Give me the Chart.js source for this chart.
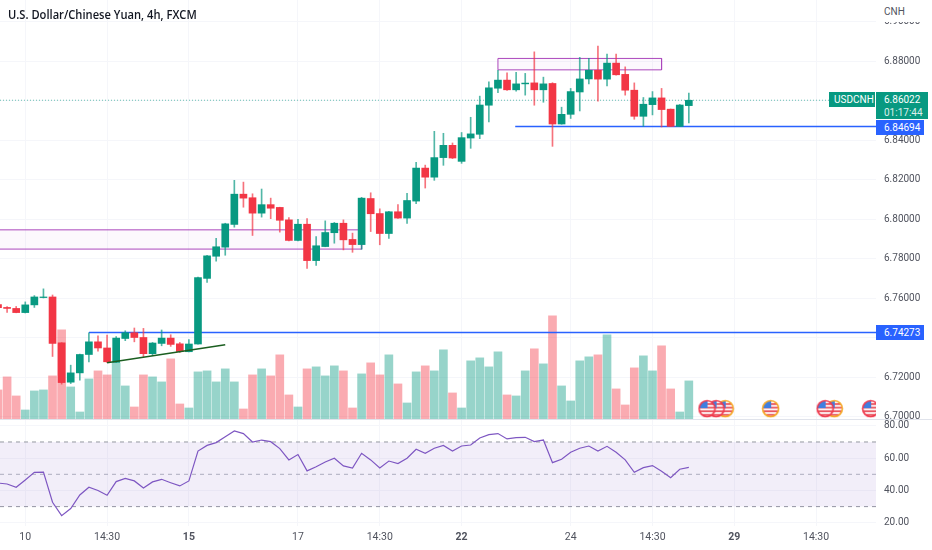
<!DOCTYPE html>
<html>
<head>
<meta charset="utf-8">
<style>
  html, body { margin: 0; padding: 0; background: #fff; overflow: hidden; }
  #wrap { position: relative; width: 932px; height: 550px; font-family: "Roboto", sans-serif; }
  canvas { position: absolute; left: 0; }
  #main { top: 0; }
  #rsi { top: 420px; }
  .txt { position: absolute; white-space: nowrap; }
  .tag { position: absolute; color: #fff; font-size: 10px; line-height: 15px; text-align: left; padding-left: 8px; box-sizing: border-box; }
</style>
</head>
<body>
<div id="wrap">
  <canvas id="main" width="932" height="420"></canvas>
  <canvas id="rsi" width="932" height="130"></canvas>
  <div class="txt" style="left:0;top:419px;width:932px;height:1px;background:#e0e3eb"></div>
  <div class="txt" style="left:877px;top:0;width:55px;height:22px;background:#fff"></div>
  <div class="txt" style="left:877px;top:526px;width:55px;height:6px;background:#fff"></div>
  <div class="txt" id="title" style="left:8px;top:6px;font:600 12px 'Open Sans';color:#131722;transform:scaleX(.93);transform-origin:left">U.S. Dollar/Chinese Yuan, 4h, FXCM</div>
  <div class="txt" style="left:884px;top:6px;font-size:10px;line-height:12px;color:#50535e">CNH</div>
  <div class="tag" style="left:829px;top:92px;width:46px;height:15px;background:#089981;padding-left:5px">USDCNH</div>
  <div class="tag" style="left:876px;top:92px;width:52px;height:27px;background:#089981;line-height:13px;padding-top:1px">6.86022<br><span style="opacity:.85">01:17:44</span></div>
  <div class="tag" style="left:876px;top:120px;width:48px;height:15px;background:#2962ff">6.84694</div>
  <div class="tag" style="left:876px;top:325px;width:48px;height:15px;background:#2962ff">6.74273</div>
</div>
<script src="https://cdn.jsdelivr.net/npm/chart.js@4/dist/chart.umd.js"></script>
<script>
const opens = [6.7568,6.7554,6.7549,6.7528,6.7567,6.7604,6.7607,6.7375,6.7176,6.7223,6.7316,6.7380,6.7349,6.7276,6.7397,6.7426,6.7402,6.7320,6.7372,6.7399,6.7370,6.7330,6.7369,6.7701,6.7813,6.7859,6.7974,6.8127,6.8109,6.8031,6.8074,6.8060,6.7997,6.7893,6.7975,6.7791,6.7862,6.7932,6.7980,6.7898,6.7872,6.8105,6.8029,6.7928,6.8038,6.8006,6.8092,6.8259,6.8213,6.8312,6.8374,6.8293,6.8411,6.8430,6.8577,6.8663,6.8704,6.8655,6.8685,6.8690,6.8655,6.8687,6.8482,6.8531,6.8644,6.8710,6.8754,6.8709,6.8790,6.8733,6.8653,6.8521,6.8580,6.8614,6.8557,6.8470,6.8575];
const closes = [6.7553,6.7549,6.7528,6.7567,6.7607,6.7607,6.7372,6.7174,6.7223,6.7316,6.7380,6.7349,6.7279,6.7399,6.7426,6.7402,6.7320,6.7374,6.7399,6.7367,6.7331,6.7369,6.7705,6.7815,6.7861,6.7977,6.8127,6.8107,6.8031,6.8074,6.8056,6.7995,6.7893,6.7975,6.7791,6.7866,6.7933,6.7980,6.7896,6.7872,6.8107,6.8028,6.7928,6.8038,6.8006,6.8095,6.8259,6.8213,6.8312,6.8374,6.8310,6.8413,6.8432,6.8578,6.8665,6.8704,6.8655,6.8685,6.8689,6.8655,6.8685,6.8482,6.8531,6.8646,6.8710,6.8754,6.8709,6.8790,6.8731,6.8653,6.8521,6.8582,6.8614,6.8555,6.8470,6.8578,6.8602];
const highs = [6.7571,6.7558,6.7559,6.7582,6.7614,6.7648,6.7617,6.7376,6.7262,6.7318,6.7425,6.7411,6.7414,6.7406,6.7436,6.7450,6.7448,6.7377,6.7440,6.7416,6.7377,6.7392,6.7708,6.7818,6.7904,6.7980,6.8197,6.8188,6.8129,6.8153,6.8107,6.8061,6.8008,6.8000,6.8004,6.7913,6.7992,6.7984,6.7997,6.7930,6.8111,6.8134,6.8053,6.8040,6.8075,6.8131,6.8288,6.8274,6.8445,6.8435,6.8386,6.8439,6.8516,6.8623,6.8695,6.8754,6.8741,6.8744,6.8738,6.8847,6.8719,6.8691,6.8567,6.8662,6.8819,6.8814,6.8876,6.8836,6.8836,6.8771,6.8690,6.8616,6.8646,6.8662,6.8558,6.8581,6.8639];
const lows = [6.7548,6.7529,6.7527,6.7526,6.7554,6.7602,6.7306,6.7166,6.7169,6.7186,6.7279,6.7333,6.7274,6.7274,6.7386,6.7380,6.7304,6.7311,6.7360,6.7357,6.7326,6.7329,6.7368,6.7681,6.7788,6.7818,6.7960,6.8061,6.7918,6.8011,6.8003,6.7935,6.7891,6.7891,6.7752,6.7766,6.7861,6.7879,6.7845,6.7833,6.7848,6.7938,6.7871,6.7903,6.8004,6.7979,6.8079,6.8158,6.8197,6.8273,6.8307,6.8283,6.8359,6.8408,6.8492,6.8641,6.8652,6.8648,6.8628,6.8577,6.8592,6.8369,6.8481,6.8510,6.8548,6.8685,6.8597,6.8675,6.8729,6.8628,6.8506,6.8470,6.8528,6.8467,6.8469,6.8469,6.8487];
const volumes = [30,43,24,10,29,30,44,90,33,8,41,49,45,57,34,13,45,43,38,61,16,12,48,49,38,51,38,11,45,51,44,65,25,13,51,53,44,54,49,12,46,57,45,65,36,17,48,54,49,70,27,12,59,62,53,68,25,24,49,71,56,104,34,19,59,63,65,85,31,15,52,64,49,74,31,8,39];
const rsiValues = [44.6,44,42,46.5,51.2,51.4,32.7,24.4,28.8,37.2,42,40,37,45.5,47.5,45.9,41.5,45.3,46.9,44.8,42.8,45.9,64.4,67.9,69.6,73.3,76.8,75.2,70,71.2,70.2,65.9,58.9,62.2,52.1,54.7,57.6,59.9,55.2,53.9,63,58.9,53.9,58.2,56.6,59.9,65.5,63,66.1,67.9,64.4,67.5,68.1,72.5,74.5,75.2,71.9,72.7,72.9,70.2,71.2,57.2,59.3,63.6,66.1,67.5,64.4,67.3,63.6,58.9,51.2,54.1,55.4,51.9,47.9,53.1,54.3];

const priceTicks = [6.70,6.72,6.74,6.76,6.78,6.80,6.82,6.84,6.86,6.88,6.90];
const rsiTicks = [20,40,60,80];
const timeTicks = [3,12,21,33,42,51,63,72,81,90];
const timeLabels = ['10','14:30','15','17','14:30','22','24','14:30','29','14:30'];
const boldLabels = ['15','22','29'];

const eventBars = [96,92,91,85,80,79,78];
const eventColors = ['#f0384c','#f5a623','#f0384c','#f5a623','#f5a623','#f0384c','#f0384c'];
const eventPrice = 6.7042;

const lastPrice = 6.86022;
const supportHigh = 6.74273;
const supportLow = 6.84694;

const GREEN = '#089981', RED = '#f23645';
const barIdx = closes.map((c, i) => i);
const xMin = 0.22, xMax = 96.59;

function isUp(i) { return closes[i] >= opens[i]; }

function flagIcon(ring) {
  const c = document.createElement('canvas');
  c.width = c.height = 19;
  const g = c.getContext('2d');
  g.beginPath(); g.arc(9.5, 9.5, 8, 0, Math.PI * 2); g.closePath();
  g.fillStyle = '#fff'; g.fill();
  g.save(); g.clip();
  g.fillStyle = '#e8505b';
  for (let r = 0; r < 4; r++) g.fillRect(0, 4 + r * 3.6, 19, 1.8);
  g.fillStyle = '#3f7fe0'; g.fillRect(0, 0, 10, 9);
  g.restore();
  g.lineWidth = 1.6; g.strokeStyle = ring; g.stroke();
  return c;
}

function hLine(label, price, from, to, color, order, extra) {
  return Object.assign({
    type: 'line', label: label, yAxisID: 'y', order: order,
    data: [{x: from, y: price}, {x: to, y: price}],
    borderColor: color, borderWidth: 1.5, pointRadius: 0, fill: false
  }, extra || {});
}

function zone(label, top, bottom, from, to, order) {
  return {
    type: 'line', label: label, yAxisID: 'y', order: order,
    data: [{x: from, y: top}, {x: to, y: top}, {x: to, y: bottom}, {x: from, y: bottom}, {x: from, y: top}],
    borderColor: '#ab47bc', borderWidth: 1, pointRadius: 0, tension: 0,
    backgroundColor: 'rgba(156,39,176,0.03)', fill: 'shape'
  };
}

function noPadding(s) {
  s.paddingTop = s.paddingBottom = s.paddingLeft = s.paddingRight = 0;
}

function timeAxis(showLabels) {
  return {
    type: 'linear', min: xMin, max: xMax, offset: false,
    afterBuildTicks: (s) => { s.ticks = timeTicks.map(v => ({value: v})); },
    afterFit: (s) => { s.height = showLabels ? 24 : 0; noPadding(s); },
    grid: {color: '#f5f6fa', offset: false, drawTicks: false},
    border: {display: false},
    ticks: {
      display: showLabels, padding: 5, maxRotation: 0, autoSkip: false, color: '#50535e',
      callback: (v) => timeLabels[timeTicks.indexOf(v)],
      font: (ctx) => {
        const lab = ctx.tick ? timeLabels[timeTicks.indexOf(ctx.tick.value)] : '';
        return {family: 'Roboto', size: 10.5, weight: boldLabels.includes(lab) ? 'bold' : 'normal'};
      }
    }
  };
}

function priceAxisCommon(ticks, digits) {
  return {
    position: 'right',
    afterBuildTicks: (s) => { s.ticks = ticks.map(v => ({value: v})); },
    afterFit: (s) => { s.width = 56; noPadding(s); },
    grid: {color: '#f5f6fa', drawTicks: false},
    border: {display: false},
    ticks: {padding: 8, color: '#50535e', font: {family: 'Roboto', size: 10}, callback: (v) => v.toFixed(digits)}
  };
}

Chart.defaults.animation = false;

new Chart(document.getElementById('main'), {
  type: 'bar',
  data: {
    datasets: [
      {type: 'line', label: 'events', yAxisID: 'y', order: 0, showLine: false,
       data: eventBars.map(i => ({x: i, y: eventPrice})),
       pointRadius: 9, pointStyle: eventColors.map(flagIcon)},
      {type: 'line', label: 'trend', yAxisID: 'y', order: 0,
       data: [{x: 12, y: 6.7274}, {x: 25, y: 6.7365}],
       borderColor: '#1b5e20', borderWidth: 1.5, pointRadius: 0},
      {label: 'body', yAxisID: 'y', order: 1, grouped: false, barThickness: 7,
       data: barIdx.map(i => ({x: i, y: [opens[i], closes[i]]})),
       backgroundColor: (c) => isUp(c.dataIndex) ? GREEN : RED},
      {label: 'wick', yAxisID: 'y', order: 2, grouped: false, barThickness: 1,
       data: barIdx.map(i => ({x: i, y: [lows[i], highs[i]]})),
       backgroundColor: (c) => isUp(c.dataIndex) ? 'rgba(8,153,129,0.7)' : 'rgba(242,54,69,0.7)'},
      hLine('support 1', supportHigh, 10, xMax, '#2962ff', 3),
      hLine('support 2', supportLow, 56.9, xMax, '#2962ff', 3),
      zone('range left', 6.79465, 6.78492, xMin - 1, 40, 4),
      zone('range top', 6.88137, 6.87559, 55, 73, 4),
      hLine('last', lastPrice, xMin, xMax, 'rgba(8,153,129,0.6)', 5, {borderWidth: 1, borderDash: [1, 2]}),
      {label: 'volume', yAxisID: 'vol', order: 6, grouped: false, barThickness: 8,
       data: barIdx.map(i => ({x: i, y: volumes[i]})),
       backgroundColor: (c) => isUp(c.dataIndex) ? 'rgba(8,153,129,0.42)' : 'rgba(242,54,69,0.42)'}
    ]
  },
  options: {
    responsive: false,
    layout: {padding: 0, autoPadding: false},
    plugins: {legend: {display: false}, tooltip: {enabled: false}},
    scales: {
      x: timeAxis(false),
      y: Object.assign(priceAxisCommon(priceTicks, 5), {min: 6.69846, max: 6.91093}),
      vol: {position: 'left', display: false, min: 0, max: 419, grid: {display: false}}
    }
  }
});

new Chart(document.getElementById('rsi'), {
  type: 'line',
  data: {
    datasets: [
      {label: 'RSI', order: 0, data: barIdx.map(i => ({x: i, y: rsiValues[i]})),
       borderColor: '#7e57c2', borderWidth: 1.2, pointRadius: 0, tension: 0},
      {label: 'upper', order: 1, data: [{x: xMin, y: 70}, {x: xMax, y: 70}],
       borderColor: '#9598a1', borderWidth: 1, borderDash: [4, 4], pointRadius: 0,
       backgroundColor: 'rgba(126,87,194,0.1)', fill: {target: {value: 30}}},
      {label: 'middle', order: 1, data: [{x: xMin, y: 50}, {x: xMax, y: 50}],
       borderColor: '#b2b5be', borderWidth: 1, borderDash: [4, 4], pointRadius: 0},
      {label: 'lower', order: 1, data: [{x: xMin, y: 30}, {x: xMax, y: 30}],
       borderColor: '#9598a1', borderWidth: 1, borderDash: [4, 4], pointRadius: 0}
    ]
  },
  options: {
    responsive: false,
    layout: {padding: 0, autoPadding: false},
    plugins: {legend: {display: false}, tooltip: {enabled: false}},
    scales: {
      x: timeAxis(true),
      y: Object.assign(priceAxisCommon(rsiTicks, 2), {min: 18, max: 83.6})
    }
  }
});
</script>
</body>
</html>
